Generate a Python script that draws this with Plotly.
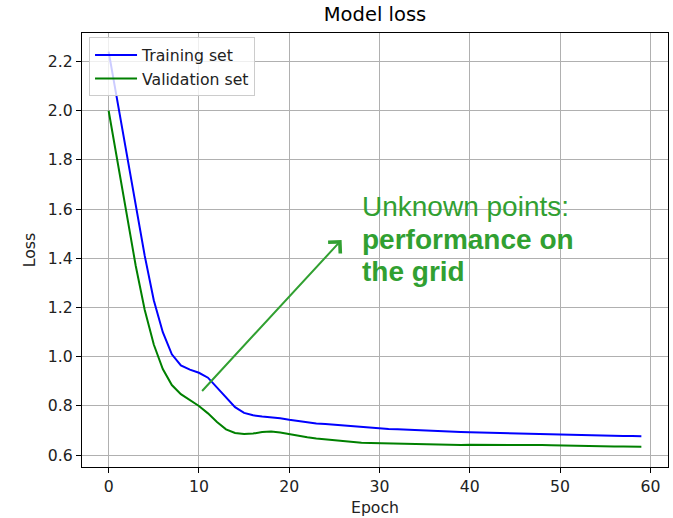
import plotly.graph_objects as go

# Per-epoch loss values
epochs = list(range(60))
train_loss = [
    2.24, 2.03, 1.82, 1.61, 1.41, 1.23, 1.10, 1.01, 0.965, 0.948,
    0.935, 0.915, 0.875, 0.835, 0.795, 0.772, 0.762, 0.757, 0.754, 0.750,
    0.744, 0.738, 0.733, 0.729, 0.727, 0.724, 0.720, 0.716, 0.712, 0.710,
    0.708, 0.706, 0.705, 0.703, 0.702, 0.700, 0.698, 0.697, 0.695, 0.694,
    0.693, 0.692, 0.691, 0.690, 0.690, 0.689, 0.688, 0.687, 0.686, 0.685,
    0.685, 0.684, 0.683, 0.682, 0.681, 0.680, 0.679, 0.678, 0.678, 0.677,
]
val_loss = [
    2.00, 1.79, 1.58, 1.37, 1.19, 1.05, 0.95, 0.885, 0.848, 0.825,
    0.800, 0.770, 0.735, 0.705, 0.690, 0.686, 0.688, 0.694, 0.696, 0.692,
    0.685, 0.679, 0.673, 0.668, 0.664, 0.660, 0.656, 0.653, 0.651, 0.650,
    0.649, 0.648, 0.647, 0.646, 0.644, 0.643, 0.642, 0.642, 0.641, 0.641,
    0.642, 0.642, 0.643, 0.644, 0.644, 0.644, 0.643, 0.642, 0.641, 0.640,
    0.639, 0.638, 0.638, 0.637, 0.636, 0.636, 0.635, 0.635, 0.634, 0.634,
]
x_ticks = [0, 10, 20, 30, 40, 50, 60]
y_ticks = [0.6, 0.8, 1.0, 1.2, 1.4, 1.6, 1.8, 2.0, 2.2]

# Arrow from the curves toward the note
arrow_tail = (10.2, 0.855)
arrow_head = (25.8, 1.475)
note_x = 27.85
note_lines = ["Unknown points:", "<b>performance on</b>", "<b>the grid</b>"]
note_y = [1.612, 1.478, 1.348]

FONT = "DejaVu Sans"
NOTE_GREEN = "#31a031"

fig = go.Figure()
fig.add_trace(go.Scatter(x=epochs, y=train_loss, mode="lines", name="Training set",
                         line=dict(color="#0000ff", width=2)))
fig.add_trace(go.Scatter(x=epochs, y=val_loss, mode="lines", name="Validation set",
                         line=dict(color="#008000", width=2)))

fig.add_annotation(x=arrow_head[0], y=arrow_head[1], ax=arrow_tail[0], ay=arrow_tail[1],
                   xref="x", yref="y", axref="x", ayref="y", text="",
                   showarrow=True, arrowhead=4, arrowsize=1.6, arrowwidth=2,
                   arrowcolor=NOTE_GREEN, standoff=0, startstandoff=0)
for txt, yy in zip(note_lines, note_y):
    fig.add_annotation(x=note_x, y=yy, xref="x", yref="y", text=txt, showarrow=False,
                       xanchor="left", yanchor="middle", align="left",
                       font=dict(family="Liberation Sans, Arial", size=28, color=NOTE_GREEN))

axis_common = dict(
    showgrid=True, gridcolor="#b0b0b0", gridwidth=1.3,
    showline=True, linecolor="black", linewidth=1.2, mirror=True,
    ticks="outside", ticklen=5, tickcolor="black", tickwidth=1.2,
    tickfont=dict(family=FONT, size=15.7, color="#222"),
    zeroline=False,
)

fig.update_layout(
    width=673, height=518,
    margin=dict(l=82, r=5, t=33, b=51),
    paper_bgcolor="white", plot_bgcolor="white",
    title=dict(text="Model loss", x=0.5, xref="paper", y=0.972, yanchor="middle",
               font=dict(family=FONT, size=19.5, color="black")),
    xaxis=dict(range=[-2.95, 61.95], tickvals=x_ticks,
               title=dict(text="Epoch", font=dict(family=FONT, size=15.7, color="#222"), standoff=7),
               **axis_common),
    yaxis=dict(range=[0.552, 2.316], tickvals=y_ticks, tickformat=".1f",
               title=dict(text="Loss", font=dict(family=FONT, size=15.7, color="#222"), standoff=8),
               **axis_common),
    legend=dict(x=0.012, y=0.99, xanchor="left", yanchor="top",
                bgcolor="rgba(255,255,255,0.8)", bordercolor="#cccccc", borderwidth=1,
                font=dict(family=FONT, size=15.7, color="#222"), itemwidth=42),
    showlegend=True,
)

fig.write_html("out.html")
